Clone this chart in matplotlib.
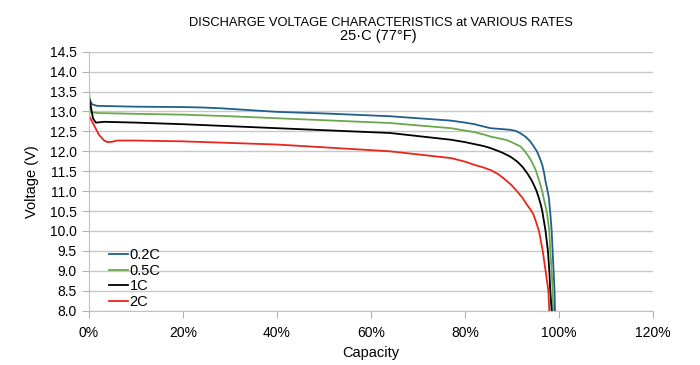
import matplotlib
matplotlib.use('Agg')
from matplotlib import pyplot as plt
from matplotlib.ticker import MultipleLocator, PercentFormatter, FormatStrFormatter

plt.rcParams['font.family'] = ['Liberation Sans', 'DejaVu Sans']

# capacity (%) and voltage (V)
cap_02 = [0, 0.7, 1.8, 10, 20, 24, 28, 32, 36, 40, 50, 64, 77, 80, 82, 84, 85.4, 87.5,
          89.6, 90.8, 91.8, 92.9, 93.9, 94.6, 95.3, 95.9, 96.4, 96.8, 97.1, 97.5, 97.8,
          98.1, 98.4, 98.6, 98.8, 99.0, 99.1]
v_02 = [13.35, 13.18, 13.14, 13.12, 13.11, 13.10, 13.08, 13.05, 13.02, 12.99, 12.95, 12.88,
        12.77, 12.72, 12.68, 12.62, 12.58, 12.56, 12.54, 12.51, 12.45, 12.36, 12.24, 12.12,
        11.99, 11.82, 11.66, 11.45, 11.24, 11.02, 10.83, 10.45, 10.0, 9.5, 9.0, 8.5, 8.0]

cap_05 = [0, 0.4, 2, 10, 20, 30, 40, 50, 64, 77, 80, 82, 84, 85.4, 87, 88.9, 90.4, 91.8,
          92.7, 93.5, 94.3, 95.0, 95.5, 96.0, 96.4, 96.7, 97.1, 97.4, 97.9, 98.1, 98.4,
          98.6, 98.7]
v_05 = [13.66, 12.98, 12.96, 12.94, 12.92, 12.88, 12.83, 12.78, 12.71, 12.58, 12.52, 12.48,
        12.42, 12.37, 12.33, 12.28, 12.20, 12.12, 12.0, 11.87, 11.71, 11.53, 11.35, 11.16,
        10.99, 10.82, 10.62, 10.45, 10.0, 9.5, 9.0, 8.5, 8.0]

cap_1 = [0, 0.4, 0.9, 1.5, 3.3, 10, 20, 30, 40, 50, 64, 77, 80, 82, 84, 85.4, 87, 88.2,
         89.7, 91.1, 92.2, 93.2, 94.0, 94.6, 95.2, 95.7, 96.1, 96.4, 97.1, 97.6, 97.9,
         98.1, 98.4]
v_1 = [13.41, 13.16, 12.83, 12.72, 12.74, 12.72, 12.68, 12.63, 12.58, 12.53, 12.46, 12.29,
       12.23, 12.18, 12.13, 12.08, 12.01, 11.95, 11.86, 11.74, 11.61, 11.45, 11.30, 11.16,
       11.0, 10.82, 10.65, 10.5, 10.0, 9.5, 9.0, 8.5, 8.0]

cap_2 = [0, 1.1, 2.2, 3.3, 4.0, 5.0, 6.1, 10, 20, 30, 40, 50, 64, 77, 80, 82, 84, 85.4,
         87, 88.2, 89.7, 91.1, 92.2, 93.2, 94.0, 94.5, 95.1, 95.7, 96.5, 97.1, 97.7, 97.9]
v_2 = [12.91, 12.66, 12.41, 12.27, 12.23, 12.24, 12.27, 12.27, 12.25, 12.21, 12.17, 12.10,
       12.0, 11.83, 11.74, 11.66, 11.59, 11.53, 11.43, 11.32, 11.17, 10.99, 10.83, 10.65,
       10.52, 10.42, 10.22, 10.0, 9.5, 9.0, 8.5, 8.0]

series = [('0.2C', cap_02, v_02, '#1f5f8b'),
          ('0.5C', cap_05, v_05, '#6aa84f'),
          ('1C', cap_1, v_1, '#000000'),
          ('2C', cap_2, v_2, '#e8261c')]

fig = plt.figure(figsize=(7, 3.65), dpi=100)
ax = fig.add_axes([0.1267, 0.1488, 0.8066, 0.7096])

for name, x, y, c in series:
    ax.plot(x, y, color=c, lw=1.3, label=name)

ax.set_xlim(0, 120)
ax.set_ylim(8.0, 14.5)
ax.xaxis.set_major_locator(MultipleLocator(20))
ax.xaxis.set_major_formatter(PercentFormatter(decimals=0))
ax.yaxis.set_major_locator(MultipleLocator(0.5))
ax.yaxis.set_major_formatter(FormatStrFormatter('%.1f'))
ax.grid(axis='y', color='#c8c8c8', lw=1.0)
ax.set_axisbelow(True)
for s in ['top', 'right']:
    ax.spines[s].set_visible(False)
for s in ['left', 'bottom']:
    ax.spines[s].set_color('#c0c0c0')
ax.tick_params(axis='both', colors='#b0b0b0', labelcolor='black', labelsize=10, length=5)
ax.tick_params(axis='x', pad=6)

ax.set_xlabel('Capacity', fontsize=10.5, labelpad=4)
ax.set_ylabel('Voltage (V)', fontsize=10.5, labelpad=8)

fig.text(0.544, 0.938, 'DISCHARGE VOLTAGE CHARACTERISTICS at VARIOUS RATES',
         ha='center', va='center', fontsize=9.3)
fig.text(0.54, 0.902, '25·C (77°F)', ha='center', va='center', fontsize=10.5)

ax.legend(loc='lower left', bbox_to_anchor=(0.013, -0.045), frameon=False,
          fontsize=10.5, handlelength=1.3, handletextpad=0.1, labelspacing=0.12)

fig.savefig('out.png', dpi=100)
